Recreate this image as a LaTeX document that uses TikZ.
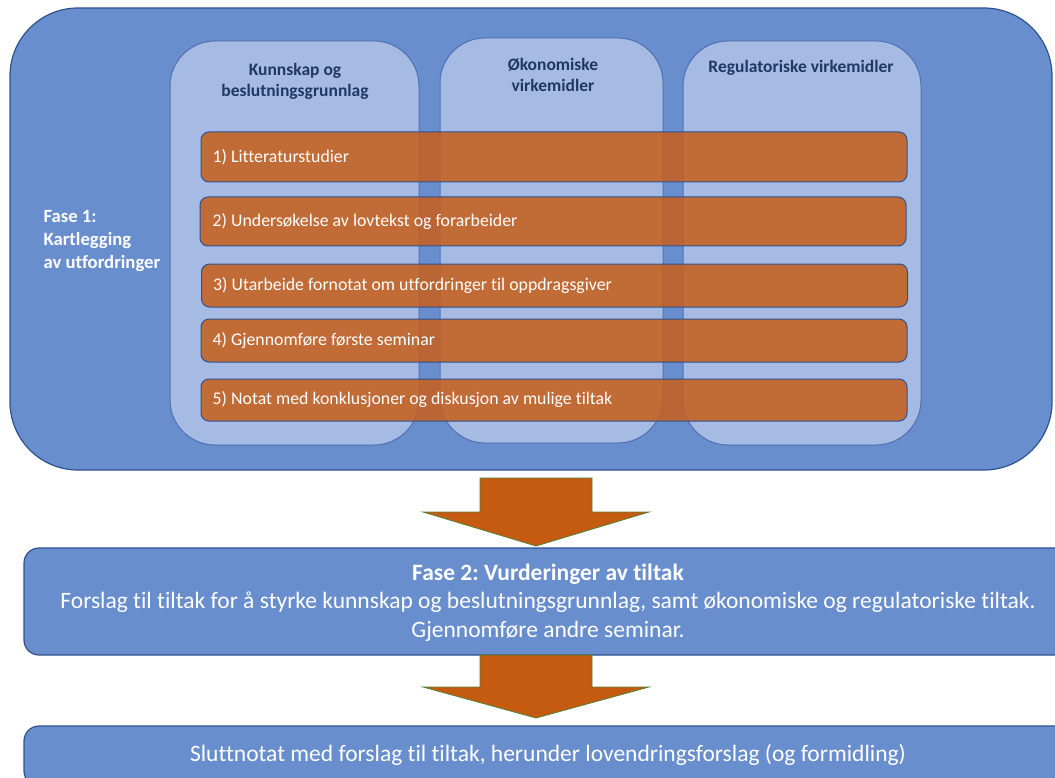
\documentclass[tikz,border=0pt]{standalone}
\usepackage{fontspec}
\setmainfont{Carlito}[Ligatures=NoCommon]
\frenchspacing
\usetikzlibrary{positioning, calc}
\definecolor{phaseblue}{RGB}{104,142,206}
\definecolor{phaseline}{RGB}{47,82,143}
\definecolor{colblue}{RGB}{166,187,227}
\definecolor{colline}{RGB}{80,112,176}
\definecolor{taskorange}{RGB}{197,96,32}
\definecolor{arrowfill}{RGB}{197,90,17}
\definecolor{arrowline}{RGB}{84,130,53}
\definecolor{headnavy}{RGB}{31,56,100}

\tikzset{
  phasebox/.style={draw=phaseline, fill=phaseblue, line width=1.2pt, inner sep=0pt},
  colbox/.style={draw=colline, fill=colblue, line width=1pt, rounded corners=45, inner sep=0pt},
  taskbar/.style={draw=phaseline, fill=taskorange, fill opacity=0.88, line width=1pt, rounded corners=8, minimum width=706, inner sep=0pt},
  tasktext/.style={text=white, font=\fontsize{17.8}{21}\selectfont, anchor=west, inner sep=0pt},
  headtext/.style={text=headnavy, font=\bfseries\fontsize{17.5}{21}\selectfont, align=center},
  phasetext/.style={text=white, font=\fontsize{23.5}{28.5}\selectfont, align=center},
  blockarrow/.style={draw=arrowline, fill=arrowfill, line width=0.8pt},
}

\begin{document}
\begin{tikzpicture}[x=1pt, y=-1pt]
  \useasboundingbox (0,0) rectangle (1055,778);
  \clip (0,0) rectangle (1055,778);

  % Fase 1 frame
  \node[phasebox, rounded corners=68, minimum width=1042, minimum height=462] (fase1) at (531,239) {};
  \node[text=white, font=\bfseries\fontsize{18.7}{23}\selectfont, align=left, anchor=west] (fase1text) at (40,241) {Fase 1:\\Kartlegging\\av utfordringer};

  % Columns
  \node[colbox, minimum width=249, minimum height=404] (kunnskap) at (294.5,243) {};
  \node[colbox, minimum width=223, minimum height=405] (okonomi) at (551.5,240.5) {};
  \node[colbox, minimum width=238, minimum height=404] (regulering) at (802,243) {};
  \node[headtext] (kunnskaphead) at (295,81) {Kunnskap og\\beslutningsgrunnlag};
  \node[headtext] (okonomihead) at (553,75) {Økonomiske\\virkemidler};
  \node[headtext] (reguleringhead) at (801,68) {Regulatoriske virkemidler};

  % Tasks
  \node[taskbar, minimum height=50] (bar1) at (554,157) {};
  \node[taskbar, minimum height=49] (bar2) at (553,221.5) {};
  \node[taskbar, minimum height=43] (bar3) at (554.5,285.5) {};
  \node[taskbar, minimum height=43] (bar4) at (554,340.5) {};
  \node[taskbar, minimum height=42] (bar5) at (554,400) {};
  \node[tasktext] (task1) at ([xshift=12]bar1.west) {1) Litteraturstudier};
  \node[tasktext] (task2) at ([xshift=13]bar2.west) {2) Undersøkelse av lovtekst og forarbeider};
  \node[tasktext] (task3) at ([xshift=12]bar3.west) {3) Utarbeide fornotat om utfordringer til oppdragsgiver};
  \node[tasktext] (task4) at ([xshift=12]bar4.west) {4) Gjennomføre første seminar};
  \node[tasktext] (task5) at ([xshift=12]bar5.west) {5) Notat med konklusjoner og diskusjon av mulige tiltak};

  % Fase 2 and final note
  \node[phasebox, rounded corners=15, minimum width=1048, minimum height=107] (fase2) at (548,601.5) {};
  \node[phasetext] (fase2text) at (548,602.5) {\textbf{Fase 2: Vurderinger av tiltak}\\Forslag til tiltak for å styrke kunnskap og beslutningsgrunnlag, samt økonomiske og regulatoriske tiltak.\\Gjennomføre andre seminar.};
  \node[phasebox, rounded corners=15, minimum width=1048, minimum height=60] (slutt) at (548,756) {};
  \node[phasetext] (sluttext) at (548,755) {Sluttnotat med forslag til tiltak, herunder lovendringsforslag (og formidling)};

  % Block arrows
  \draw[blockarrow] (480,478) -- (592,478) -- (592,512) -- (649,512) -- (536,546) -- (423,512) -- (480,512) -- cycle;
  \draw[blockarrow] (480,655) -- (592,655) -- (592,687) -- (649,687) -- (536,718) -- (423,687) -- (480,687) -- cycle;
\end{tikzpicture}
\end{document}
